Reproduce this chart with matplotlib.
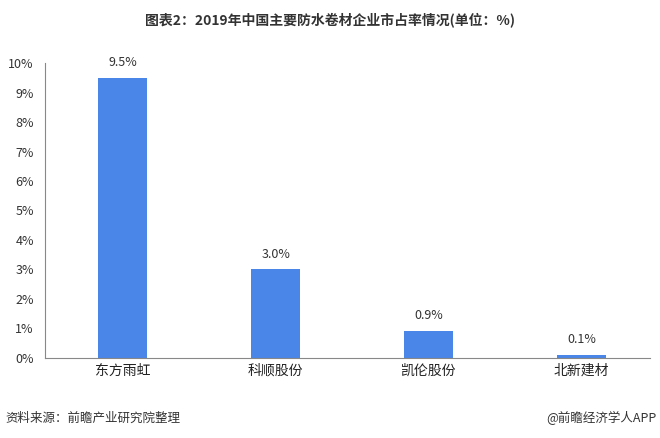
import matplotlib
matplotlib.use("Agg")
import matplotlib.pyplot as plt

plt.rcParams['font.family'] = ['Noto Sans CJK SC', 'DejaVu Sans']

categories = ["东方雨虹", "科顺股份", "凯伦股份", "北新建材"]
values = [9.5, 3.0, 0.9, 0.1]
yticks = list(range(0, 11))

fig = plt.figure(figsize=(6.6, 4.38), dpi=100)
ax = fig.add_axes([0.068, 0.183, 0.917, 0.673])
x = list(range(len(categories)))
ax.bar(x, values, width=0.32, color="#4A86E8")
for xi, v in zip(x, values):
    ax.text(xi, v + 0.3, f"{v:.1f}%", ha="center", va="bottom", fontsize=9, color="#333333")
ax.set_xlim(-0.51, 3.45)
ax.set_ylim(0, 10)
ax.set_yticks(yticks)
ax.set_yticklabels([f"{t}%" for t in yticks], fontsize=9, color="#333333")
ax.set_xticks(x)
ax.set_xticklabels(categories, fontsize=10, color="#222222")
for s in ["top", "right"]:
    ax.spines[s].set_visible(False)
for s in ["left", "bottom"]:
    ax.spines[s].set_color("#888888")
ax.tick_params(axis="both", length=0, pad=4)
ax.tick_params(axis="y", pad=8)

fig.text(0.5, 0.955, "图表2：2019年中国主要防水卷材企业市占率情况(单位：%)", ha="center", va="center",
         fontsize=10, fontweight="bold", color="#333333")
fig.text(0.008, 0.045, "资料来源：前瞻产业研究院整理", ha="left", va="center", fontsize=9, color="#333333")
fig.text(0.995, 0.045, "@前瞻经济学人APP", ha="right", va="center", fontsize=9, color="#333333")
fig.savefig("out.png", dpi=100)
